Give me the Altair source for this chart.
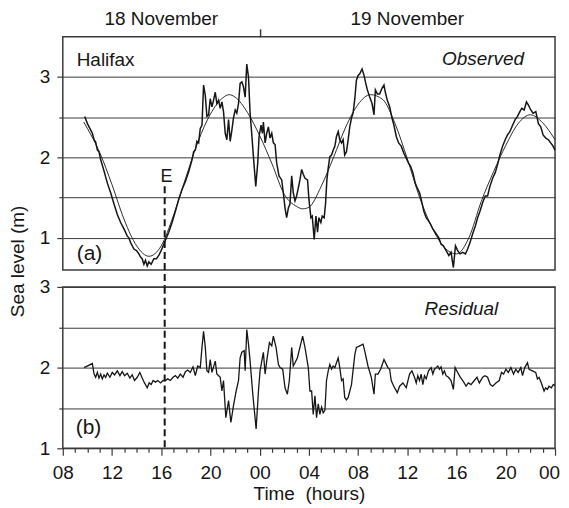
import altair as alt
import pandas as pd

# ---------------- data (hours since 00:00, 18 November) ----------------
OBS_H = [9.78, 10.0, 10.27, 10.4, 10.54, 10.67, 10.81, 10.94, 11.08, 11.35, 11.62, 11.89, 12.16, 12.43,
         12.70, 12.97, 13.24, 13.37, 13.51, 13.78, 13.99, 14.18, 14.32, 14.45, 14.59, 14.72, 14.86, 14.99,
         15.18, 15.40, 15.61, 15.80, 15.99, 16.21, 16.42, 16.61, 16.88, 17.15, 17.42, 17.69, 17.96, 18.23,
         18.5, 18.63, 18.77, 18.9, 19.04, 19.17, 19.31, 19.44, 19.58, 19.71, 19.85, 19.98, 20.12, 20.25,
         20.39, 20.52, 20.66, 20.79, 20.93, 21.06, 21.2, 21.33, 21.47, 21.6, 21.74, 21.87, 22.01, 22.14,
         22.28, 22.41, 22.55, 22.68, 22.82, 22.95, 23.09, 23.22, 23.36, 23.49, 23.68, 23.84, 23.95, 24.11,
         24.22, 24.3, 24.44, 24.57, 24.71, 24.84, 24.98, 25.11, 25.25, 25.38, 25.57, 25.79, 25.92, 26.06,
         26.19, 26.33, 26.46, 26.6, 26.73, 26.87, 27.0, 27.14, 27.27, 27.41, 27.54, 27.68, 27.89, 28.0,
         28.16, 28.27, 28.43, 28.57, 28.7, 28.81, 28.97, 29.08, 29.24, 29.35, 29.46, 29.57, 29.7, 29.84,
         29.97, 30.11, 30.24, 30.38, 30.51, 30.65, 30.78, 30.91, 31.05, 31.19, 31.32, 31.46, 31.59, 31.73,
         31.86, 32.0, 32.13, 32.32, 32.48, 32.62, 32.75, 32.94, 33.13, 33.29, 33.4, 33.56, 33.75, 33.94,
         34.1, 34.21, 34.37, 34.56, 34.75, 34.91, 35.1, 35.29, 35.5, 35.72, 35.91, 36.1, 36.26, 36.45,
         36.64, 36.8, 36.99, 37.18, 37.34, 37.53, 37.72, 37.88, 38.07, 38.34, 38.56, 38.74, 38.93, 39.15,
         39.37, 39.55, 39.74, 39.91, 40.09, 40.28, 40.5, 40.72, 40.9, 41.09, 41.31, 41.53, 41.71, 41.9,
         42.12, 42.33, 42.52, 42.71, 42.93, 43.14, 43.33, 43.52, 43.74, 43.95, 44.14, 44.33, 44.55, 44.76,
         44.95, 45.14, 45.3, 45.49, 45.68, 45.84, 46.03, 46.22, 46.44, 46.65, 46.84, 47.03, 47.25, 47.46,
         47.65, 47.84, 48.0]
OBS_V = [2.51, 2.42, 2.34, 2.30, 2.22, 2.19, 2.09, 2.07, 1.97, 1.83, 1.68, 1.56, 1.42, 1.29,
         1.19, 1.11, 1.02, 1.00, 0.94, 0.86, 0.84, 0.80, 0.76, 0.74, 0.67, 0.72, 0.65, 0.70,
         0.67, 0.74, 0.74, 0.78, 0.84, 0.92, 1.00, 1.07, 1.19, 1.33, 1.48, 1.60, 1.70, 1.82,
         1.97, 2.07, 2.09, 2.20, 2.18, 2.36, 2.40, 2.90, 2.77, 2.51, 2.53, 2.73, 2.63, 2.71,
         2.81, 2.67, 2.71, 2.61, 2.69, 2.57, 2.30, 2.22, 2.47, 2.20, 2.34, 2.49, 2.59, 2.55,
         2.67, 2.92, 2.94, 2.88, 2.75, 3.16, 3.00, 2.55, 2.28, 2.01, 1.64, 1.93, 2.26, 2.40,
         2.30, 2.44, 2.18, 2.30, 2.38, 2.24, 2.30, 2.18, 2.16, 1.93, 1.77, 1.72, 1.56, 1.37,
         1.25, 1.37, 1.42, 1.77, 1.56, 1.46, 1.52, 1.62, 1.72, 1.85, 1.79, 1.74, 1.72, 1.48,
         1.25, 1.27, 0.98, 1.27, 1.07, 1.25, 1.19, 1.27, 1.25, 1.42, 1.72, 1.87, 2.01, 2.03,
         2.09, 2.14, 2.26, 2.32, 2.22, 2.18, 2.22, 2.03, 2.07, 2.22, 2.38, 2.49, 2.55, 2.73,
         2.96, 3.02, 3.04, 3.10, 3.02, 2.92, 2.84, 2.75, 2.67, 2.53, 2.84, 2.79, 2.79, 2.86,
         2.90, 2.81, 2.71, 2.63, 2.49, 2.40, 2.26, 2.18, 2.14, 2.05, 1.99, 1.93, 1.89, 1.81,
         1.68, 1.62, 1.56, 1.44, 1.33, 1.25, 1.21, 1.17, 1.11, 1.05, 1.00, 0.92, 0.90, 0.84,
         0.78, 0.82, 0.63, 0.90, 0.84, 0.80, 0.82, 0.80, 0.86, 0.94, 1.05, 1.15, 1.25, 1.33,
         1.44, 1.52, 1.52, 1.64, 1.74, 1.81, 1.91, 2.03, 2.14, 2.22, 2.28, 2.32, 2.40, 2.47,
         2.51, 2.57, 2.61, 2.59, 2.69, 2.65, 2.59, 2.55, 2.57, 2.42, 2.38, 2.28, 2.24, 2.22,
         2.18, 2.14, 2.09]

PRED_H = [9.7, 10, 11, 12, 13, 14, 15, 16, 17, 18, 19, 20, 21, 21.5, 22, 23, 24, 25, 26, 27, 27.5,
          28, 29, 30, 31, 32, 33, 34, 35, 36, 37, 38, 39, 40, 41, 42, 43, 44, 45, 46, 47, 48]
PRED_V = [2.44, 2.36, 2.06, 1.66, 1.22, 0.90, 0.77, 0.90, 1.28, 1.75, 2.20, 2.54, 2.74, 2.78, 2.75,
          2.56, 2.27, 1.92, 1.54, 1.39, 1.36, 1.38, 1.64, 2.00, 2.38, 2.66, 2.78, 2.72, 2.42, 1.98,
          1.50, 1.13, 0.88, 0.80, 1.00, 1.45, 1.82, 2.15, 2.42, 2.53, 2.43, 2.22]

RES_H = [9.73, 10.40, 10.54, 10.67, 10.81, 10.94, 11.08, 11.21, 11.35, 11.48, 11.62, 11.83, 12.02,
         12.21, 12.43, 12.64, 12.83, 13.02, 13.24, 13.45, 13.64, 13.83, 14.05, 14.26, 14.45, 14.64,
         14.86, 15.02, 15.18, 15.34, 15.53, 15.72, 15.94, 16.15, 16.34, 16.53, 16.74, 16.96, 17.15,
         17.34, 17.55, 17.77, 17.96, 18.15, 18.36, 18.58, 18.77, 18.96, 19.17, 19.31, 19.44, 19.58,
         19.71, 19.85, 19.98, 20.12, 20.39, 20.52, 20.79, 20.93, 21.06, 21.25, 21.47, 21.66, 21.87,
         22.09, 22.28, 22.41, 22.55, 22.74, 22.82, 22.95, 23.09, 23.22, 23.44, 23.71, 23.90, 24.03,
         24.17, 24.30, 24.44, 24.57, 24.79, 24.98, 25.11, 25.33, 25.52, 25.65, 25.87, 26.06, 26.25,
         26.41, 26.60, 26.73, 26.87, 27.06, 27.27, 27.49, 27.68, 27.95, 28.08, 28.22, 28.35, 28.49,
         28.62, 28.76, 28.89, 29.03, 29.16, 29.30, 29.43, 29.57, 29.70, 29.84, 29.97, 30.11, 30.24,
         30.38, 30.51, 30.65, 30.78, 30.91, 31.05, 31.19, 31.46, 31.73, 31.86, 32.13, 32.40, 32.53,
         32.80, 33.07, 33.29, 33.40, 33.61, 33.83, 34.10, 34.29, 34.42, 34.56, 34.69, 34.83, 34.96,
         35.18, 35.37, 35.64, 35.91, 36.18, 36.37, 36.58, 36.72, 36.85, 36.99, 37.12, 37.26, 37.39,
         37.53, 37.72, 37.93, 38.07, 38.20, 38.34, 38.47, 38.61, 38.74, 38.88, 39.01, 39.15, 39.34,
         39.55, 39.74, 39.88, 40.09, 40.31, 40.50, 40.77, 40.96, 41.17, 41.44, 41.66, 41.85, 42.12,
         42.31, 42.52, 42.74, 42.93, 43.20, 43.47, 43.65, 43.82, 44.01, 44.20, 44.41, 44.63, 44.81,
         45.00, 45.22, 45.36, 45.54, 45.76, 45.89, 46.16, 46.43, 46.57, 46.70, 46.89, 47.11, 47.24,
         47.38, 47.51, 47.70, 47.86, 48.00]
RES_V = [2.00, 2.05, 1.92, 1.88, 1.94, 1.87, 1.92, 1.86, 1.91, 1.88, 1.93, 1.88, 1.94,
         1.91, 1.96, 1.90, 1.95, 1.90, 1.93, 1.87, 1.91, 1.84, 1.88, 1.94, 1.87, 1.81,
         1.75, 1.81, 1.79, 1.84, 1.82, 1.84, 1.81, 1.84, 1.84, 1.86, 1.84, 1.88, 1.90,
         1.87, 1.92, 1.88, 1.95, 1.97, 1.94, 2.01, 1.90, 2.02, 2.00, 2.25, 2.45, 2.25,
         1.96, 1.94, 2.10, 1.94, 2.08, 1.92, 1.88, 1.71, 1.84, 1.38, 1.59, 1.32, 1.53,
         1.71, 1.84, 2.12, 2.19, 2.21, 1.96, 2.47, 2.29, 2.08, 1.67, 1.24, 1.71, 1.96,
         2.08, 2.19, 1.92, 2.08, 2.31, 2.27, 2.39, 2.25, 2.04, 2.00, 1.98, 1.75, 1.67,
         1.84, 2.25, 2.02, 2.06, 2.12, 2.25, 2.39, 2.25, 2.00, 1.71, 1.71, 1.42, 1.65,
         1.38, 1.55, 1.42, 1.51, 1.44, 1.47, 1.84, 1.96, 2.04, 1.98, 2.02, 2.00, 2.06,
         2.12, 2.00, 1.84, 1.86, 1.63, 1.60, 1.63, 1.79, 2.16, 2.25, 2.27, 2.29, 2.21,
         2.02, 1.88, 1.67, 1.92, 1.92, 1.98, 2.10, 2.04, 2.00, 1.98, 1.84, 1.79, 1.75,
         1.69, 1.77, 1.81, 1.75, 1.92, 1.96, 1.88, 1.81, 1.90, 1.84, 1.92, 1.79, 1.90,
         1.86, 1.96, 2.00, 1.92, 1.98, 2.00, 2.02, 1.98, 2.01, 1.92, 1.96, 1.90, 1.88,
         1.84, 1.73, 2.00, 1.94, 1.88, 1.84, 1.77, 1.81, 1.79, 1.84, 1.88, 1.81, 1.88,
         1.90, 1.88, 1.79, 1.77, 1.81, 1.84, 1.94, 1.92, 1.98, 1.94, 2.00, 1.92, 1.98,
         1.94, 2.00, 1.90, 2.00, 2.06, 1.98, 1.96, 1.94, 1.86, 1.88, 1.81, 1.71, 1.75,
         1.73, 1.77, 1.75, 1.79, 1.78]

EVENT_H = 16.28          # dashed line "E"
EVENT_TOP_V = 1.64
DAY_H = [16, 36]
DAY_LABELS = ["18 November", "19 November"]
MIDNIGHT = [24]
X_TICKS = list(range(8, 49))
Y_TICKS = [1, 1.5, 2, 2.5, 3]

FONT = "Liberation Sans"
INK = "#161616"
GRID = "#3a3a3a"
W = 494
H_TOP = 234
H_BOT = 162
GAP = 17

obs_df = pd.DataFrame({"h": OBS_H, "v": OBS_V})
pred_df = pd.DataFrame({"h": PRED_H, "v": PRED_V})
res_df = pd.DataFrame({"h": RES_H, "v": RES_V})
day_df = pd.DataFrame({"h": DAY_H, "label": DAY_LABELS})

x_scale = alt.Scale(domain=[8, 48], nice=False, zero=False)
top_y_scale = alt.Scale(domain=[0.6, 3.5], nice=False, zero=False)
bot_y_scale = alt.Scale(domain=[1, 3], nice=False, zero=False)

top_x_axis = alt.Axis(
    orient="top", values=MIDNIGHT, labels=False, tickSize=8,
    tickColor=GRID, tickWidth=1.5, domain=False, grid=False, title=None)

bot_x_axis = alt.Axis(
    orient="bottom", values=X_TICKS,
    labelExpr="datum.value % 4 == 0 ? ((datum.value % 24) < 10 ? '0' + (datum.value % 24) : '' + (datum.value % 24)) : ''",
    tickSize={"condition": {"test": "datum.value % 4 == 0", "value": 7}, "value": 4},
    labelOffset={"condition": {"test": "datum.value == 48", "value": -6}, "value": 0},
    tickColor=GRID, tickWidth=1.2, domain=False, grid=False,
    labelFontSize=19, labelPadding=8, labelOverlap=False, labelFlush=False,
    labelColor=INK, labelFont=FONT,
    title="Time \u00a0(hours)", titleFontSize=19, titleFontWeight="normal",
    titleColor=INK, titleFont=FONT, titlePadding=2)


def y_axis(**kw):
    return alt.Axis(
        values=Y_TICKS,
        labelExpr="datum.value % 1 == 0 ? '' + datum.value : ''",
        tickSize={"condition": {"test": "datum.value % 1 == 0", "value": 6}, "value": 4},
        tickColor=GRID, tickWidth=1.2, domain=False,
        grid=True, gridColor=GRID, gridWidth=1,
        labelFontSize=19, labelPadding=7, labelColor=INK, labelFont=FONT, **kw)


top_y_axis = y_axis(title="Sea level (m)", titleX=-35, titleY=225, titleAngle=270,
                    titleAlign="center", titleBaseline="bottom", titleFontSize=19,
                    titleFontWeight="normal", titleColor=INK, titleFont=FONT)
bot_y_axis = y_axis(title=None)

XT = alt.X("h:Q", scale=x_scale, axis=top_x_axis)
YT = alt.Y("v:Q", scale=top_y_scale, axis=top_y_axis)
XB = alt.X("h:Q", scale=x_scale, axis=bot_x_axis)
YB = alt.Y("v:Q", scale=bot_y_scale, axis=bot_y_axis)


def label_layer(rows, x, y, **mk):
    df = pd.DataFrame(rows, columns=["h", "v", "label"])
    return alt.Chart(df).mark_text(font=FONT, color=INK, baseline="middle", **mk).encode(
        x=x, y=y, text="label:N")


pred_line = alt.Chart(pred_df).mark_line(color=INK, strokeWidth=0.9, interpolate="monotone").encode(x=XT, y=YT)
obs_line = alt.Chart(obs_df).mark_line(color=INK, strokeWidth=1.5).encode(x=XT, y=YT)
e_top = alt.Chart(pd.DataFrame({"h": [EVENT_H], "v": [EVENT_TOP_V]})).mark_rule(
    color=INK, strokeWidth=2, strokeDash=[7, 4]).encode(x=XT, y=YT, y2=alt.value(H_TOP + GAP))
day_text = alt.Chart(day_df).mark_text(
    font=FONT, color=INK, fontSize=19, baseline="middle", align="center").encode(
    x=XT, y=alt.value(-18), text="label:N")

top = alt.layer(
    pred_line, obs_line, e_top, day_text,
    label_layer([[9.13, 3.21, "Halifax"]], XT, YT, align="left", fontSize=19),
    label_layer([[45.49, 3.22, "Observed"]], XT, YT, align="right", fontSize=19, fontStyle="italic"),
    label_layer([[9.13, 0.80, "(a)"]], XT, YT, align="left", fontSize=21),
    label_layer([[16.42, 1.76, "E"]], XT, YT, align="center", fontSize=18),
).properties(width=W, height=H_TOP)

res_line = alt.Chart(res_df).mark_line(color=INK, strokeWidth=1.3).encode(x=XB, y=YB)
e_bot = alt.Chart(pd.DataFrame({"h": [EVENT_H], "v": [3.0]})).mark_rule(
    color=INK, strokeWidth=2, strokeDash=[7, 4]).encode(x=XB, y=YB, y2=alt.value(H_BOT))

bottom = alt.layer(
    res_line, e_bot,
    label_layer([[43.38, 2.73, "Residual"]], XB, YB, align="right", fontSize=19, fontStyle="italic"),
    label_layer([[9.05, 1.25, "(b)"]], XB, YB, align="left", fontSize=21),
).properties(width=W, height=H_BOT)

chart = alt.vconcat(top, bottom, spacing=GAP).properties(
    padding=0, bounds="flush"
).configure_view(stroke=GRID, strokeWidth=1.5).configure_axis(labelFont=FONT, titleFont=FONT)

chart.save("out.html", embed_options={"renderer": "svg", "actions": False})
